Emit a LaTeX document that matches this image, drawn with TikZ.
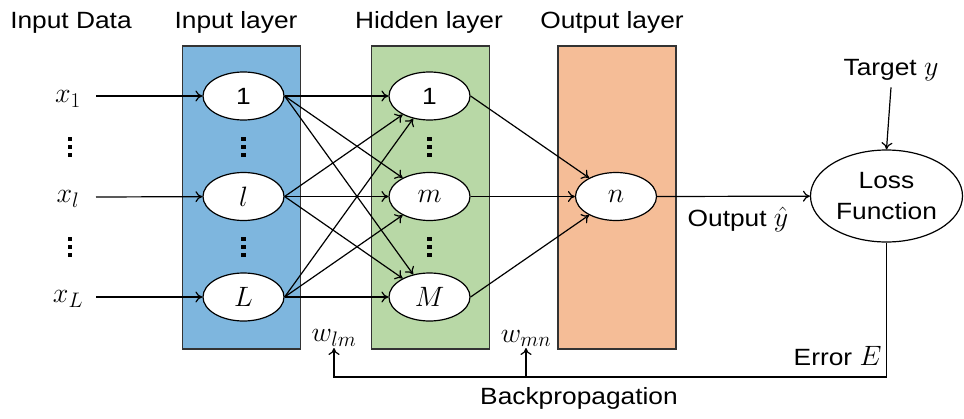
\documentclass[tikz,border=0pt]{standalone}
\usepackage{fix-cm}
\usepackage{fontspec}
\setmainfont{Liberation Sans}[FakeStretch=1.12]
\usetikzlibrary{shapes.geometric,arrows.meta}
\definecolor{layerblue}{HTML}{7EB6DE}
\definecolor{layergreen}{HTML}{B8D8A6}
\definecolor{layerorange}{HTML}{F5BD97}
\DeclareMathSizes{28}{28}{21}{16}
\newcommand{\mth}[1]{{\fontsize{28}{32}\selectfont$#1$}}
\newcommand{\sqdots}[2]{%
  \foreach \dd in {-8,0,8} {\fill (#1-2.2,#2+\dd-2.2) rectangle (#1+2.2,#2+\dd+2.2);}}
\begin{document}
\begin{tikzpicture}[x=1pt,y=-1pt,
  font=\fontsize{23.5}{28}\selectfont,
  layer/.style={draw=black!80, line width=1.6pt, minimum width=118pt, minimum height=303pt, inner sep=0pt},
  neuron/.style={ellipse, draw, fill=white, line width=1.2pt, minimum width=81pt, minimum height=48pt, inner sep=0pt},
  arr/.style={-{To[length=7pt,width=11pt]}, line width=1.2pt},
  lbl/.style={inner sep=1pt}]
\useasboundingbox (0,0) rectangle (964,418);
% layers
\node[layer, fill=layerblue] (lin) at (241.5,197.5) {};
\node[layer, fill=layergreen] (lhid) at (430.5,197.5) {};
\node[layer, fill=layerorange] (lout) at (617,197.5) {};
% headers
\node[anchor=base] (hData) at (71,28) {Input Data};
\node[anchor=base] (hIn) at (236,28) {Input layer};
\node[anchor=base] (hHid) at (429,28) {Hidden layer};
\node[anchor=base] (hOut) at (612,28) {Output layer};
% neurons
\node[neuron] (i1) at (243.5,96) {1};
\node[neuron] (il) at (243.5,196.5) {\mth{l}};
\node[neuron] (iL) at (243.5,297) {\mth{L}};
\node[neuron] (h1) at (429.5,96) {1};
\node[neuron] (hm) at (429.5,196.5) {\mth{m}};
\node[neuron] (hM) at (429.5,297) {\mth{M}};
\node[neuron] (on) at (616,196.5) {\mth{n}};
\node[ellipse, draw, line width=1.2pt, minimum width=152pt, minimum height=92pt, inner sep=0pt,
      align=center, font=\fontsize{23.5}{31}\selectfont] (loss) at (886.5,196) {Loss\\Function};
% dots
\sqdots{70}{147}
\sqdots{70}{247}
\sqdots{243.5}{147}
\sqdots{243.5}{247}
\sqdots{429.5}{147}
\sqdots{429.5}{247}
% inputs
\node (x1) at (68,99) {\mth{x_1}};
\node (xl) at (68,199) {\mth{x_l}};
\node (xL) at (68,299) {\mth{x_L}};
\coordinate (s1) at (96,96);
\coordinate (sl) at (96,197);
\coordinate (sL) at (96,297);
\draw[arr] (s1) -- (i1);
\draw[arr] (sl) -- (il);
\draw[arr] (sL) -- (iL);
% input to hidden
\foreach \a in {i1,il,iL} {
  \foreach \b in {h1,hm,hM} {
    \draw[arr] (\a.east) -- (\b);
  }
}
% hidden to output
\foreach \b in {h1,hm,hM} {
  \draw[arr] (\b.east) -- (on);
}
% output to loss
\draw[arr] (on.east) -- (loss);
\node[inner sep=0pt] (outlbl) at (738,219) {Output \mth{\hat{y}}};
% target
\node (target) at (891,70) {Target \mth{y}};
\draw[arr] ([yshift=-3pt]target.south) -- (loss.north);
% backprop
\node[lbl, anchor=south] (wlm) at (334,348) {\mth{w_{lm}}};
\node[lbl, anchor=south] (wmn) at (526,348) {\mth{w_{mn}}};
\coordinate (bk) at (0,377);
\draw[arr] (loss.south) |- (wlm.south |- bk) -- (wlm.south);
\draw[arr] (wmn.south |- bk) -- (wmn.south);
\node[anchor=east] (err) at (885,356) {Error \mth{E}};
\node (bp) at (579,398) {Backpropagation};
\end{tikzpicture}
\end{document}
